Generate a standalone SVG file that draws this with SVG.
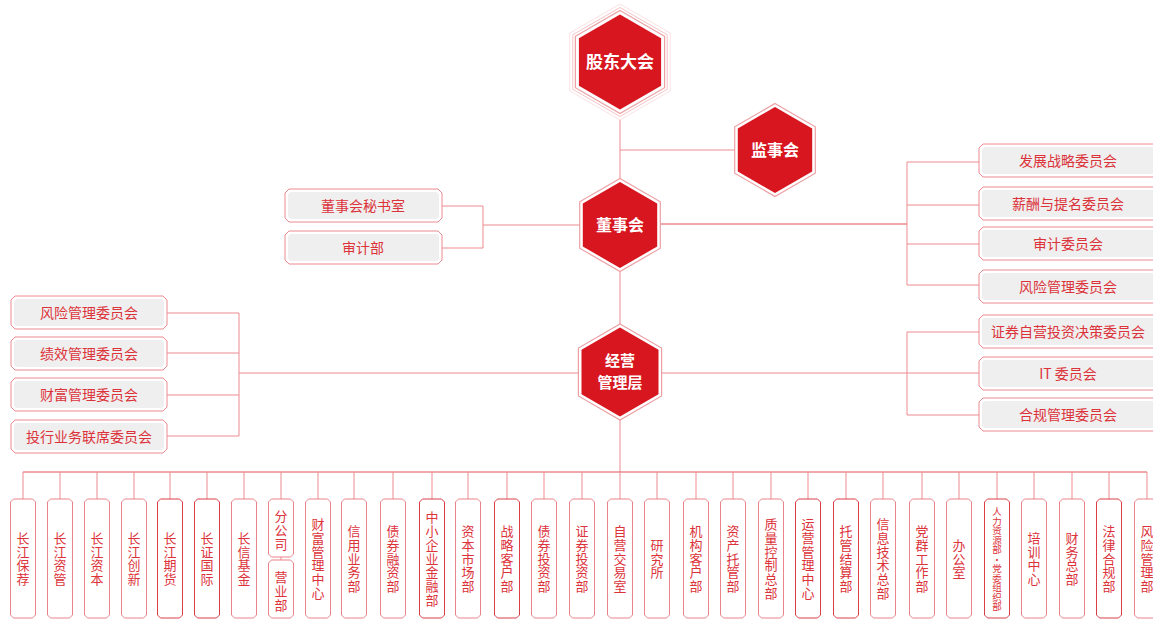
<svg xmlns="http://www.w3.org/2000/svg" width="1153" height="619" viewBox="0 0 1153 619">
<style>
.ln{stroke:#ec8b91;stroke-width:1;fill:none}
.lnd{stroke:#e0545c;stroke-width:1;fill:none}
.ob{fill:#fff;stroke:#ec8a90;stroke-width:1}
.ib{fill:#efefef}
.cb{fill:#fff;stroke:#ea838a;stroke-width:1}
.cbd{fill:#fff;stroke:#dc3e47;stroke-width:1}
.t{font-family:"Noto Sans CJK SC","Noto Sans",sans-serif;font-size:14px;fill:#dc333b;text-anchor:middle}
.tc{font-size:13px}
.ts{font-size:9.5px}
.ht{font-family:"Noto Sans CJK SC","Noto Sans",sans-serif;fill:#fff;font-weight:bold;text-anchor:middle}
.hr{fill:#d8161f}
.ho{fill:#fff;stroke:#eca0a4;stroke-width:1.2}
</style>
<rect width="1153" height="619" fill="#fff"/>
<g id="connectors">
<line class="ln" x1="620" y1="110" x2="620" y2="472"/>
<line class="ln" x1="620" y1="150" x2="775" y2="150"/>
<line class="ln" x1="483" y1="225" x2="620" y2="225"/>
<line class="lnd" x1="620" y1="224" x2="907" y2="224"/>
<path class="ln" d="M442 206H483M442 248H483M483 206V248"/>
<path class="ln" d="M907 162V285M907 162H979M907 205H979M907 244H979M907 285H979"/>
<line class="ln" x1="239" y1="373" x2="907" y2="373"/>
<path class="ln" d="M239 313V436M167 313H239M167 353H239M167 395H239M167 436H239"/>
<path class="ln" d="M907 332V415M907 332H979M907 415H979M907 373H979"/>
<line class="lnd" x1="23" y1="472" x2="1147" y2="472"/>
<path class="ln" d="M23 472V499M60 472V499M97 472V499M134 472V499M170 472V499M207 472V499M244 472V499M281 472V499M281 557V560M318 472V499M354 472V499M393 472V499M432 472V499M468 472V499M507 472V499M544 472V499M582 472V499M620 472V499M657 472V499M696 472V499M733 472V499M771 472V499M808 472V499M846 472V499M883 472V499M922 472V499M959 472V499M997 472V499M1034 472V499M1072 472V499M1109 472V499M1147 472V499"/>
</g>
<g id="n-gudong">
<polygon points="620,4 670.2,33 670.2,91 620,120 569.8,91 569.8,33" fill="#fff" stroke="#fbe2e3" stroke-width="1"/>
<polygon points="620,7.5 667.2,34.75 667.2,89.25 620,116.5 572.8,89.25 572.8,34.75" fill="#fff" stroke="#f6c3c6" stroke-width="1"/>
<polygon class="ho" points="620,10.5 664.6,36.25 664.6,87.75 620,113.5 575.4,87.75 575.4,36.25"/>
<polygon class="hr" points="620,14.5 661.1,38.25 661.1,85.75 620,109.5 578.9,85.75 578.9,38.25"/>
<text class="ht" x="620" y="68" font-size="17">股东大会</text>
</g>
<g id="n-jianshi">
<polygon class="ho" points="775,103.5 815.3,126.75 815.3,173.25 775,196.5 734.7,173.25 734.7,126.75"/>
<polygon class="hr" points="775,107 812.2,128.5 812.2,171.5 775,193 737.8,171.5 737.8,128.5"/>
<text class="ht" x="775" y="156" font-size="16">监事会</text>
</g>
<g id="n-dongshi">
<polygon class="ho" points="620,178.5 660.3,201.75 660.3,248.25 620,271.5 579.7,248.25 579.7,201.75"/>
<polygon class="hr" points="620,182 657.2,203.5 657.2,246.5 620,268 582.8,246.5 582.8,203.5"/>
<text class="ht" x="620" y="231" font-size="16">董事会</text>
</g>
<g id="n-jingying">
<polygon class="ho" points="620,324 661.6,348 661.6,396 620,420 578.4,396 578.4,348"/>
<polygon class="hr" points="620,327.5 658.5,349.75 658.5,394.25 620,416.5 581.5,394.25 581.5,349.75"/>
<text class="ht" x="620" y="366" font-size="15">经营</text>
<text class="ht" x="620" y="388" font-size="15">管理层</text>
</g>
<g id="n-mishu">
<path class="ob" d="M289 189H438L442 193V218L438 222H289L285 218V193Z"/>
<rect class="ib" x="288" y="192" width="151" height="27" rx="4"/>
<text class="t" x="363" y="210.5">董事会秘书室</text>
</g>
<g id="n-shenji">
<path class="ob" d="M289 231H438L442 235V260L438 264H289L285 260V235Z"/>
<rect class="ib" x="288" y="234" width="151" height="27" rx="4"/>
<text class="t" x="363" y="252.5">审计部</text>
</g>
<g id="n-fazhan">
<path class="ob" d="M983 144H1157V177H983L979 173V148Z"/>
<rect class="ib" x="982" y="147" width="180" height="27" rx="4"/>
<text class="t" x="1068" y="165.5">发展战略委员会</text>
</g>
<g id="n-xinchou">
<path class="ob" d="M983 187H1157V220H983L979 216V191Z"/>
<rect class="ib" x="982" y="190" width="180" height="27" rx="4"/>
<text class="t" x="1068" y="208.5">薪酬与提名委员会</text>
</g>
<g id="n-shenjiwei">
<path class="ob" d="M983 227H1157V260H983L979 256V231Z"/>
<rect class="ib" x="982" y="230" width="180" height="27" rx="4"/>
<text class="t" x="1068" y="248.5">审计委员会</text>
</g>
<g id="n-fengxian1">
<path class="ob" d="M983 270H1157V303H983L979 299V274Z"/>
<rect class="ib" x="982" y="273" width="180" height="27" rx="4"/>
<text class="t" x="1068" y="291.5">风险管理委员会</text>
</g>
<g id="n-zhengquan">
<path class="ob" d="M983 315H1157V348H983L979 344V319Z"/>
<rect class="ib" x="982" y="318" width="180" height="27" rx="4"/>
<text class="t" x="1068" y="336.5">证券自营投资决策委员会</text>
</g>
<g id="n-it">
<path class="ob" d="M983 357H1157V390H983L979 386V361Z"/>
<rect class="ib" x="982" y="360" width="180" height="27" rx="4"/>
<text class="t" x="1068" y="378.5">IT 委员会</text>
</g>
<g id="n-hegui">
<path class="ob" d="M983 398H1157V431H983L979 427V402Z"/>
<rect class="ib" x="982" y="401" width="180" height="27" rx="4"/>
<text class="t" x="1068" y="419.5">合规管理委员会</text>
</g>
<g id="n-fengxian2">
<path class="ob" d="M15 296H163L167 300V325L163 329H15L11 325V300Z"/>
<rect class="ib" x="14" y="299" width="150" height="27" rx="4"/>
<text class="t" x="89" y="317.5">风险管理委员会</text>
</g>
<g id="n-jixiao">
<path class="ob" d="M15 337H163L167 341V366L163 370H15L11 366V341Z"/>
<rect class="ib" x="14" y="340" width="150" height="27" rx="4"/>
<text class="t" x="89" y="358.5">绩效管理委员会</text>
</g>
<g id="n-caifu">
<path class="ob" d="M15 378H163L167 382V407L163 411H15L11 407V382Z"/>
<rect class="ib" x="14" y="381" width="150" height="27" rx="4"/>
<text class="t" x="89" y="399.5">财富管理委员会</text>
</g>
<g id="n-touhang">
<path class="ob" d="M15 420H163L167 424V449L163 453H15L11 449V424Z"/>
<rect class="ib" x="14" y="423" width="150" height="27" rx="4"/>
<text class="t" x="89" y="441.5">投行业务联席委员会</text>
</g>
<g id="n-c1"><path class="cb" d="M13.5 499H32.5L35.5 502V615L32.5 618H13.5L10.5 615V502Z"/><text class="t tc" x="23 23 23 23" y="542.8 556.6 570.4 584.2">长江保荐</text></g>
<g id="n-c2"><path class="cb" d="M50.5 499H69.5L72.5 502V615L69.5 618H50.5L47.5 615V502Z"/><text class="t tc" x="60 60 60 60" y="542.8 556.6 570.4 584.2">长江资管</text></g>
<g id="n-c3"><path class="cb" d="M87.5 499H106.5L109.5 502V615L106.5 618H87.5L84.5 615V502Z"/><text class="t tc" x="97 97 97 97" y="542.8 556.6 570.4 584.2">长江资本</text></g>
<g id="n-c4"><path class="cb" d="M124.5 499H143.5L146.5 502V615L143.5 618H124.5L121.5 615V502Z"/><text class="t tc" x="134 134 134 134" y="542.8 556.6 570.4 584.2">长江创新</text></g>
<g id="n-c5"><path class="cbd" d="M160.5 499H179.5L182.5 502V615L179.5 618H160.5L157.5 615V502Z"/><text class="t tc" x="170 170 170 170" y="542.8 556.6 570.4 584.2">长江期货</text></g>
<g id="n-c6"><path class="cbd" d="M197.5 499H216.5L219.5 502V615L216.5 618H197.5L194.5 615V502Z"/><text class="t tc" x="207 207 207 207" y="542.8 556.6 570.4 584.2">长证国际</text></g>
<g id="n-c7"><path class="cb" d="M234.5 499H253.5L256.5 502V615L253.5 618H234.5L231.5 615V502Z"/><text class="t tc" x="244 244 244 244" y="542.8 556.6 570.4 584.2">长信基金</text></g>
<g id="n-c8a"><path class="cb" d="M271.5 499H290.5L293.5 502V554L290.5 557H271.5L268.5 554V502Z"/><text class="t tc" x="281 281 281" y="521.2 535 548.8">分公司</text></g>
<g id="n-c8b"><path class="cb" d="M271.5 560H290.5L293.5 563V615L290.5 618H271.5L268.5 615V563Z"/><text class="t tc" x="281 281 281" y="582.2 596 609.8">营业部</text></g>
<g id="n-c9"><path class="cb" d="M308.5 499H327.5L330.5 502V615L327.5 618H308.5L305.5 615V502Z"/><text class="t tc" x="318 318 318 318 318 318" y="529 542.8 556.6 570.4 584.2 598">财富管理中心</text></g>
<g id="n-c10"><path class="cb" d="M344.5 499H363.5L366.5 502V615L363.5 618H344.5L341.5 615V502Z"/><text class="t tc" x="354 354 354 354 354" y="535.9 549.7 563.5 577.3 591.1">信用业务部</text></g>
<g id="n-c11"><path class="cb" d="M383.5 499H402.5L405.5 502V615L402.5 618H383.5L380.5 615V502Z"/><text class="t tc" x="393 393 393 393 393" y="535.9 549.7 563.5 577.3 591.1">债券融资部</text></g>
<g id="n-c12"><path class="cbd" d="M422.5 499H441.5L444.5 502V615L441.5 618H422.5L419.5 615V502Z"/><text class="t tc" x="432 432 432 432 432 432 432" y="522.1 535.9 549.7 563.5 577.3 591.1 604.9">中小企业金融部</text></g>
<g id="n-c13"><path class="cb" d="M458.5 499H477.5L480.5 502V615L477.5 618H458.5L455.5 615V502Z"/><text class="t tc" x="468 468 468 468 468" y="535.9 549.7 563.5 577.3 591.1">资本市场部</text></g>
<g id="n-c14"><path class="cbd" d="M497.5 499H516.5L519.5 502V615L516.5 618H497.5L494.5 615V502Z"/><text class="t tc" x="507 507 507 507 507" y="535.9 549.7 563.5 577.3 591.1">战略客户部</text></g>
<g id="n-c15"><path class="cb" d="M534.5 499H553.5L556.5 502V615L553.5 618H534.5L531.5 615V502Z"/><text class="t tc" x="544 544 544 544 544" y="535.9 549.7 563.5 577.3 591.1">债券投资部</text></g>
<g id="n-c16"><path class="cb" d="M572.5 499H591.5L594.5 502V615L591.5 618H572.5L569.5 615V502Z"/><text class="t tc" x="582 582 582 582 582" y="535.9 549.7 563.5 577.3 591.1">证券投资部</text></g>
<g id="n-c17"><path class="cb" d="M610.5 499H629.5L632.5 502V615L629.5 618H610.5L607.5 615V502Z"/><text class="t tc" x="620 620 620 620 620" y="535.9 549.7 563.5 577.3 591.1">自营交易室</text></g>
<g id="n-c18"><path class="cb" d="M647.5 499H666.5L669.5 502V615L666.5 618H647.5L644.5 615V502Z"/><text class="t tc" x="657 657 657" y="549.7 563.5 577.3">研究所</text></g>
<g id="n-c19"><path class="cb" d="M686.5 499H705.5L708.5 502V615L705.5 618H686.5L683.5 615V502Z"/><text class="t tc" x="696 696 696 696 696" y="535.9 549.7 563.5 577.3 591.1">机构客户部</text></g>
<g id="n-c20"><path class="cb" d="M723.5 499H742.5L745.5 502V615L742.5 618H723.5L720.5 615V502Z"/><text class="t tc" x="733 733 733 733 733" y="535.9 549.7 563.5 577.3 591.1">资产托管部</text></g>
<g id="n-c21"><path class="cb" d="M761.5 499H780.5L783.5 502V615L780.5 618H761.5L758.5 615V502Z"/><text class="t tc" x="771 771 771 771 771 771" y="529 542.8 556.6 570.4 584.2 598">质量控制总部</text></g>
<g id="n-c22"><path class="cbd" d="M798.5 499H817.5L820.5 502V615L817.5 618H798.5L795.5 615V502Z"/><text class="t tc" x="808 808 808 808 808 808" y="529 542.8 556.6 570.4 584.2 598">运营管理中心</text></g>
<g id="n-c23"><path class="cbd" d="M836.5 499H855.5L858.5 502V615L855.5 618H836.5L833.5 615V502Z"/><text class="t tc" x="846 846 846 846 846" y="535.9 549.7 563.5 577.3 591.1">托管结算部</text></g>
<g id="n-c24"><path class="cb" d="M873.5 499H892.5L895.5 502V615L892.5 618H873.5L870.5 615V502Z"/><text class="t tc" x="883 883 883 883 883 883" y="529 542.8 556.6 570.4 584.2 598">信息技术总部</text></g>
<g id="n-c25"><path class="cb" d="M912.5 499H931.5L934.5 502V615L931.5 618H912.5L909.5 615V502Z"/><text class="t tc" x="922 922 922 922 922" y="535.9 549.7 563.5 577.3 591.1">党群工作部</text></g>
<g id="n-c26"><path class="cb" d="M949.5 499H968.5L971.5 502V615L968.5 618H949.5L946.5 615V502Z"/><text class="t tc" x="959 959 959" y="549.7 563.5 577.3">办公室</text></g>
<g id="n-c27"><path class="cbd" d="M987.5 499H1006.5L1009.5 502V615L1006.5 618H987.5L984.5 615V502Z"/><text class="t ts" x="997 997 997 997 997 997 997 997 997 997 997" y="515.4 524.9 534.4 543.9 553.4 562.9 572.4 581.9 591.4 600.9 610.4">人力资源部·党委组织部</text></g>
<g id="n-c28"><path class="cb" d="M1024.5 499H1043.5L1046.5 502V615L1043.5 618H1024.5L1021.5 615V502Z"/><text class="t tc" x="1034 1034 1034 1034" y="542.8 556.6 570.4 584.2">培训中心</text></g>
<g id="n-c29"><path class="cb" d="M1062.5 499H1081.5L1084.5 502V615L1081.5 618H1062.5L1059.5 615V502Z"/><text class="t tc" x="1072 1072 1072 1072" y="542.8 556.6 570.4 584.2">财务总部</text></g>
<g id="n-c30"><path class="cbd" d="M1099.5 499H1118.5L1121.5 502V615L1118.5 618H1099.5L1096.5 615V502Z"/><text class="t tc" x="1109 1109 1109 1109 1109" y="535.9 549.7 563.5 577.3 591.1">法律合规部</text></g>
<g id="n-c31"><path class="cb" d="M1137.5 499H1156.5L1159.5 502V615L1156.5 618H1137.5L1134.5 615V502Z"/><text class="t tc" x="1147 1147 1147 1147 1147" y="535.9 549.7 563.5 577.3 591.1">风险管理部</text></g>
</svg>
